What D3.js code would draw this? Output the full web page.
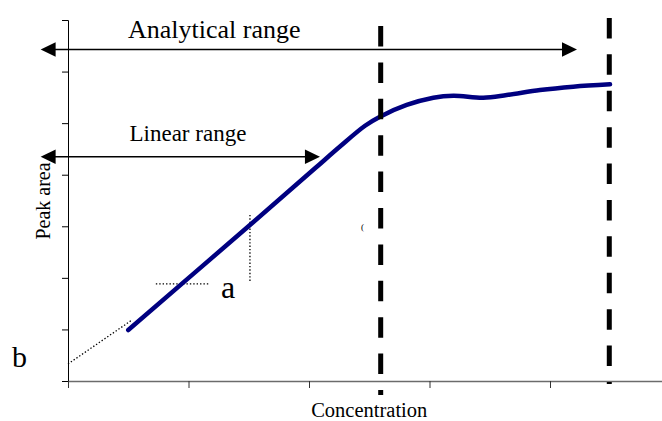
<!DOCTYPE html>
<html>
<head>
<meta charset="utf-8">
<script src="https://cdn.jsdelivr.net/npm/d3@7"></script>
<style>
  html, body { margin: 0; padding: 0; background: #fff; }
  svg { display: block; }
  text { font-family: "Liberation Serif", "Times New Roman", serif; fill: #000; }
</style>
</head>
<body>
<svg id="chart" width="662" height="421"></svg>
<script>
// Calibration curve: detector response against concentration
const concentration = [0.500, 1.510, 2.050, 2.257, 2.465, 2.589, 2.811, 3.032, 3.198, 3.446, 3.641, 3.917, 4.193, 4.498];
const peakArea      = [0.989, 3.025, 4.124, 4.547, 4.949, 5.125, 5.352, 5.493, 5.532, 5.493, 5.545, 5.642, 5.707, 5.753];

// Axis ticks (unlabelled)
const xTicks = [0, 1, 2, 3, 4, 5];
const yTicks = [0, 1, 2, 3, 4, 5, 6, 7];

// Limits of the analytical range (vertical dashed markers)
const limitX      = [2.595, 4.492];
const limitTop    = [6.884, 7.040];
const limitBottom = [-0.271, -0.058];

// Range arrows: [label, y, xStart, xEnd]
const rangeLabels = ["Analytical range", "Linear range"];
const rangeY      = [6.428, 4.349];
const rangeStart  = [-0.227, -0.227];
const rangeEnd    = [4.224, 2.091];

// Intercept (b) extrapolation and slope (a) triangle
const interceptX = [0, 0.531];
const interceptY = [0.330, 1.183];
const slopeRunX  = [0.729, 1.170];
const slopeRunY  = [1.885, 1.885];
const slopeRiseX = [1.510, 1.510];
const slopeRiseY = [3.220, 1.905];

const svg = d3.select("#chart");

const x = d3.scaleLinear().domain([0, 5]).range([68, 670.5]);
const y = d3.scaleLinear().domain([0, 7]).range([381, 20]);

// Y axis
const yAxis = svg.append("g")
  .attr("transform", `translate(${x(0)},0)`)
  .call(d3.axisLeft(y).tickValues(yTicks).tickSize(6).tickSizeOuter(6).tickFormat(""));
yAxis.select(".domain").attr("stroke", "#000").attr("stroke-width", 1);
yAxis.selectAll(".tick line").attr("stroke", "#000");

// X axis
const xAxis = svg.append("g")
  .attr("transform", `translate(0,${y(0)})`)
  .call(d3.axisBottom(x).tickValues(xTicks).tickSize(7).tickSizeOuter(0).tickFormat(""));
xAxis.select(".domain").attr("stroke", "#6b6b6b").attr("stroke-width", 1.6);
xAxis.selectAll(".tick line").attr("stroke", "#333");

// Axis titles
svg.append("text")
  .attr("x", (x(0) + x(5)) / 2)
  .attr("y", 416.7)
  .attr("text-anchor", "middle")
  .style("font-size", "20.5px")
  .text("Concentration");

svg.append("text")
  .attr("transform", `translate(50,201) rotate(-90)`)
  .attr("text-anchor", "middle")
  .style("font-size", "20px")
  .text("Peak area");

// Dotted construction lines
const dotted = (xs, ys) => svg.append("line")
  .attr("x1", x(xs[0])).attr("y1", y(ys[0]))
  .attr("x2", x(xs[1])).attr("y2", y(ys[1]))
  .attr("stroke", "#000").attr("stroke-width", 1.3)
  .attr("stroke-dasharray", "1.4,2");
dotted(interceptX, interceptY);
dotted(slopeRunX, slopeRunY);
dotted(slopeRiseX, slopeRiseY);

// Response curve
const line = d3.line()
  .x(i => x(concentration[i]))
  .y(i => y(peakArea[i]))
  .curve(d3.curveCatmullRom.alpha(0.5));
svg.append("path")
  .attr("d", line(d3.range(concentration.length)))
  .attr("fill", "none")
  .attr("stroke", "#000080")
  .attr("stroke-width", 4.5)
  .attr("stroke-linecap", "round")
  .attr("stroke-linejoin", "round");

// Dashed limit markers
limitX.forEach((v, i) => {
  svg.append("line")
    .attr("x1", x(v)).attr("x2", x(v))
    .attr("y1", y(limitTop[i])).attr("y2", y(limitBottom[i]))
    .attr("stroke", "#000").attr("stroke-width", 5)
    .attr("stroke-dasharray", "20.5,15.9");
});

// Double-headed range arrows
const headL = 15, headH = 7.2;
rangeLabels.forEach((lab, i) => {
  const yy = y(rangeY[i]);
  const x0 = x(rangeStart[i]), x1 = x(rangeEnd[i]);
  svg.append("line")
    .attr("x1", x0 + headL - 1).attr("x2", x1 - headL + 1)
    .attr("y1", yy).attr("y2", yy)
    .attr("stroke", "#000").attr("stroke-width", 1.6);
  svg.append("path")
    .attr("d", `M${x0},${yy}L${x0 + headL},${yy - headH}L${x0 + headL},${yy + headH}Z`)
    .attr("fill", "#000");
  svg.append("path")
    .attr("d", `M${x1},${yy}L${x1 - headL},${yy - headH}L${x1 - headL},${yy + headH}Z`)
    .attr("fill", "#000");
});

svg.append("text").attr("x", 128).attr("y", 38.3)
  .style("font-size", "26px").text(rangeLabels[0]);
svg.append("text").attr("x", 129.5).attr("y", 141)
  .style("font-size", "23px").text(rangeLabels[1]);

// Parameter labels
svg.append("text").attr("x", 12).attr("y", 367)
  .style("font-size", "30px").text("b");
svg.append("text").attr("x", 221).attr("y", 298.3)
  .style("font-size", "32px").text("a");
svg.append("text").attr("x", 361).attr("y", 230)
  .style("font-size", "9px").text("(");
</script>
</body>
</html>
